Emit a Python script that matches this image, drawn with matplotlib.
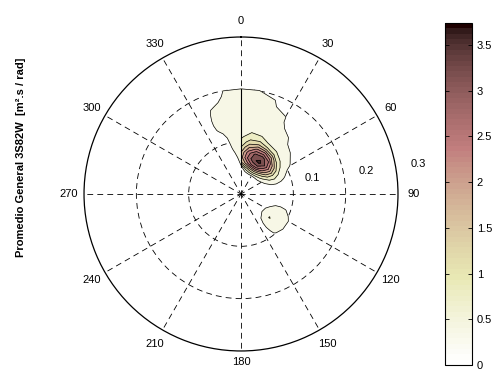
import numpy as np
import matplotlib
matplotlib.use('Agg')
import matplotlib.pyplot as plt
from matplotlib.colors import Normalize
from matplotlib.cm import ScalarMappable
from matplotlib.ticker import FuncFormatter

plt.rcParams['font.family'] = ['Liberation Sans', 'DejaVu Sans']

# frequency bins [Hz]
freq = [0.03, 0.04, 0.05, 0.06, 0.07, 0.08, 0.09, 0.10, 0.11, 0.12,
        0.13, 0.14, 0.15, 0.16, 0.17, 0.18, 0.19, 0.20, 0.21, 0.22]

# spectral density [m2.s/rad] per direction (deg, clockwise from N), one value per freq bin
spec = {
    0:   [0.00, 0.10, 0.13, 1.47, 1.80, 1.60, 1.20, 0.92, 0.72, 0.62, 0.56, 0.52, 0.50, 0.48, 0.46, 0.44, 0.42, 0.41, 0.30, 0.05],
    10:  [0.00, 0.10, 1.00, 2.20, 2.80, 2.60, 2.00, 1.40, 1.00, 0.78, 0.66, 0.60, 0.56, 0.53, 0.50, 0.47, 0.44, 0.41, 0.30, 0.05],
    20:  [0.00, 0.35, 1.50, 2.90, 3.50, 3.30, 2.50, 1.60, 1.00, 0.72, 0.62, 0.57, 0.53, 0.50, 0.47, 0.44, 0.41, 0.30, 0.10, 0.00],
    30:  [0.00, 0.40, 1.70, 3.10, 3.74, 3.40, 2.50, 1.30, 0.75, 0.58, 0.52, 0.49, 0.46, 0.43, 0.41, 0.25, 0.05, 0.00, 0.00, 0.00],
    40:  [0.00, 0.40, 1.40, 2.60, 3.20, 2.90, 2.00, 1.00, 0.65, 0.50, 0.45, 0.41, 0.30, 0.10, 0.00, 0.00, 0.00, 0.00, 0.00, 0.00],
    50:  [0.00, 0.35, 1.00, 1.80, 2.20, 1.80, 1.10, 0.70, 0.52, 0.44, 0.30, 0.10, 0.00, 0.00, 0.00, 0.00, 0.00, 0.00, 0.00, 0.00],
    60:  [0.00, 0.20, 0.60, 1.00, 1.15, 0.90, 0.60, 0.46, 0.38, 0.20, 0.00, 0.00, 0.00, 0.00, 0.00, 0.00, 0.00, 0.00, 0.00, 0.00],
    70:  [0.00, 0.10, 0.30, 0.50, 0.55, 0.48, 0.36, 0.20, 0.05, 0.00, 0.00, 0.00, 0.00, 0.00, 0.00, 0.00, 0.00, 0.00, 0.00, 0.00],
    80:  [0.00, 0.00, 0.10, 0.15, 0.18, 0.15, 0.10, 0.05, 0.00, 0.00, 0.00, 0.00, 0.00, 0.00, 0.00, 0.00, 0.00, 0.00, 0.00, 0.00],
    100: [0.00, 0.00, 0.00, 0.05, 0.10, 0.12, 0.10, 0.05, 0.00, 0.00, 0.00, 0.00, 0.00, 0.00, 0.00, 0.00, 0.00, 0.00, 0.00, 0.00],
    110: [0.00, 0.00, 0.10, 0.30, 0.45, 0.47, 0.42, 0.30, 0.10, 0.00, 0.00, 0.00, 0.00, 0.00, 0.00, 0.00, 0.00, 0.00, 0.00, 0.00],
    120: [0.00, 0.00, 0.30, 0.55, 0.70, 0.72, 0.62, 0.48, 0.30, 0.05, 0.00, 0.00, 0.00, 0.00, 0.00, 0.00, 0.00, 0.00, 0.00, 0.00],
    130: [0.00, 0.00, 0.35, 0.58, 0.82, 0.74, 0.62, 0.48, 0.30, 0.05, 0.00, 0.00, 0.00, 0.00, 0.00, 0.00, 0.00, 0.00, 0.00, 0.00],
    140: [0.00, 0.00, 0.15, 0.42, 0.50, 0.50, 0.45, 0.38, 0.15, 0.00, 0.00, 0.00, 0.00, 0.00, 0.00, 0.00, 0.00, 0.00, 0.00, 0.00],
    150: [0.00, 0.00, 0.00, 0.10, 0.15, 0.15, 0.10, 0.00, 0.00, 0.00, 0.00, 0.00, 0.00, 0.00, 0.00, 0.00, 0.00, 0.00, 0.00, 0.00],
    330: [0.00, 0.00, 0.00, 0.00, 0.00, 0.00, 0.00, 0.00, 0.00, 0.05, 0.10, 0.15, 0.15, 0.12, 0.08, 0.00, 0.00, 0.00, 0.00, 0.00],
    340: [0.00, 0.00, 0.00, 0.00, 0.00, 0.00, 0.00, 0.10, 0.20, 0.33, 0.43, 0.46, 0.46, 0.44, 0.40, 0.30, 0.15, 0.05, 0.00, 0.00],
    350: [0.00, 0.00, 0.00, 0.05, 0.20, 0.35, 0.45, 0.50, 0.52, 0.54, 0.55, 0.55, 0.54, 0.52, 0.50, 0.47, 0.44, 0.40, 0.15, 0.00],
    # last column of the grid (360 deg), not joined to the 0 deg column
    360: [0.00, 0.10, 0.30, 0.50, 0.62, 0.66, 0.66, 0.64, 0.62, 0.60, 0.58, 0.56, 0.54, 0.52, 0.50, 0.47, 0.44, 0.41, 0.30, 0.05],
}

dir_ticks = list(range(0, 360, 30))
r_ticks = [0.1, 0.2]
r_labels = ['0.1', '0.2', '0.3']
r_label_pos = [(77.3, 0.139), (79.6, 0.243), (80.4, 0.343)]
cbar_ticks = [0, 0.5, 1, 1.5, 2, 2.5, 3, 3.5]

freq = np.array(freq)
dirs = np.arange(0, 361, 10)
Z = np.zeros((len(freq), len(dirs)))
for d, col in spec.items():
    Z[:, list(dirs).index(d)] = col
zmax = Z.max()

T, R = np.meshgrid(np.deg2rad(dirs), freq)

levels = list(np.arange(0.4, 3.61, 0.4)) + [zmax]
cmap = plt.get_cmap('pink_r', 64)
norm = Normalize(0, zmax)
band_colors = [cmap(norm(lv)) for lv in levels[:-1]]

fig = plt.figure(figsize=(4.96, 3.7), dpi=100)
ax = fig.add_axes([0.1694, 0.0514, 0.633, 0.8486], projection='polar')
ax.set_theta_zero_location('N')
ax.set_theta_direction(-1)

ax.contourf(T, R, Z, levels=levels, colors=band_colors)
ax.contour(T, R, Z, levels=levels[:-1], colors='k', linewidths=0.5)


def extent(profile, level):
    idx = np.where(profile >= level)[0]
    i0, i1 = idx[0], idx[-1]
    lo = np.interp(level, [profile[i0 - 1], profile[i0]], [freq[i0 - 1], freq[i0]])
    hi = np.interp(level, [profile[i1 + 1], profile[i1]], [freq[i1 + 1], freq[i1]])
    return lo, hi


# edge of the grid along north
e0 = extent(np.array(spec[0]), levels[0])
e1 = extent(np.array(spec[360]), levels[0])
ax.plot([0, 0], [min(e0[0], e1[0]), max(e0[1], e1[1])], color='k', lw=0.8)

ax.set_ylim(0, 0.3)
ax.set_yticks(r_ticks)
ax.set_yticklabels([])
ax.set_xticks(np.deg2rad(dir_ticks))
ax.set_xticklabels([])
ax.grid(True, color='k', linestyle=(2, (7, 5)), linewidth=0.6)
ax.set_axisbelow(True)
ax.spines['polar'].set_color('k')
ax.spines['polar'].set_linewidth(0.9)

for a in dir_ticks:
    r_txt = 0.322 if a == 180 else 0.33
    ax.text(np.deg2rad(a), r_txt, str(a), ha='center', va='center', fontsize=8)
for lab, (a, r) in zip(r_labels, r_label_pos):
    ax.text(np.deg2rad(a), r, lab, ha='center', va='center', fontsize=8)

fig.text(0.042, 0.576, 'Promedio General 3S82W  [m\u00b2.s / rad]', rotation=90,
         fontweight='bold', fontsize=8, ha='center', va='center')

cax = fig.add_axes([0.897, 0.0135, 0.0544, 0.924])
cb = fig.colorbar(ScalarMappable(norm=norm, cmap=cmap), cax=cax, ticks=cbar_ticks)
cb.ax.yaxis.set_major_formatter(FuncFormatter(lambda v, p: '%g' % v))
cb.ax.tick_params(direction='in', left=True, right=True, length=3, width=0.6, labelsize=8)
cb.outline.set_linewidth(0.8)

fig.savefig('out.png', dpi=100)
